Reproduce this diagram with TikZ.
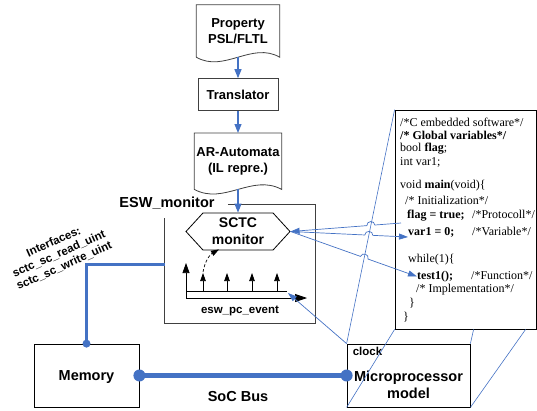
\documentclass[tikz,border=0pt]{standalone}
\usepackage{fontspec}
\setmainfont{Liberation Sans}
\newfontfamily\codefont{Liberation Serif}
\usetikzlibrary{arrows.meta,calc,positioning,shapes.symbols,intersections}
\definecolor{LinkBlue}{HTML}{4472C4}
\definecolor{FrameGray}{HTML}{404040}

% document shape: straight top and sides, wavy bottom
\newcommand{\docoutline}[1]{%
  \draw[FrameGray, line width=0.8pt] (#1.north west) -- (#1.north east) -- (#1.south east)
    .. controls ($(#1.south)+(14,-16)$) and ($(#1.south)+(-14,16)$) .. (#1.south west) -- cycle;}

\begin{document}
\begin{tikzpicture}[x=1pt, y=-1pt, node distance=21pt,
    every node/.style={font=\bfseries},
    docbox/.style={minimum width=83pt, minimum height=52pt, inner sep=0pt, align=center, font=\fontsize{13}{15.5}\selectfont\bfseries},
    stepbox/.style={draw=FrameGray, line width=0.8pt, minimum width=80pt, minimum height=32pt, inner sep=0pt, font=\fontsize{13}{15.5}\selectfont\bfseries},
    hexbox/.style={draw=black, line width=0.8pt, signal, signal to=west and east, signal pointer angle=95, minimum width=104pt, minimum height=37pt, inner sep=0pt, align=center, font=\fontsize{14}{17}\selectfont\bfseries},
    unitbox/.style={draw=black, line width=0.8pt, minimum height=63pt, inner sep=0pt},
    bigtxt/.style={inner sep=0pt, align=center, font=\fontsize{14.5}{17}\selectfont\bfseries},
    smalltxt/.style={inner sep=0pt, font=\fontsize{11.5}{13}\selectfont\bfseries},
    codeln/.style={anchor=west, inner sep=0pt, font=\codefont\fontsize{12}{13}\selectfont},
    flowarr/.style={draw=LinkBlue, line width=1.1pt, -{Triangle[length=9pt,width=7pt]}},
    thinarr/.style={draw=LinkBlue, line width=0.7pt, -{Triangle[length=9pt,width=6pt]}},
    thinline/.style={draw=LinkBlue, line width=0.6pt},
    evtarr/.style={black, line width=0.7pt, -{Triangle[length=8pt,width=5.5pt]}}]
  \useasboundingbox (0,0) rectangle (537,410);

  % property -> translator -> automata
  \node[docbox] (prop) at (238,31) {Property\\PSL/FLTL};
  \node[stepbox, below=of prop] (trans) {Translator};
  \node[docbox, minimum width=87pt, minimum height=56pt, below=22pt of trans] (auto) {AR-Automata\\(IL repre.)};
  \docoutline{prop}
  \docoutline{auto}

  % ESW monitor frame
  \node[minimum width=150pt, minimum height=118pt, inner sep=0pt] (esw) at (240,264) {};
  \draw[FrameGray, line width=0.8pt] ($(esw.north west)+(63,0)$) -| (esw.south east) -| ($(esw.north west)+(0,13)$);
  \node[bigtxt] (eswlbl) at (167,203) {ESW\_monitor};
  \node[hexbox] (sctc) at (238,231.5) {SCTC\\monitor};

  % event axis
  \coordinate (evo) at (186,298);
  \coordinate (evend) at (287,291);
  \draw[black, line width=0.7pt] (evend) -- (evend -| evo);
  \draw[evtarr, -{Triangle[length=10pt,width=7pt]}] (evo) -- ++(0,-35);
  \draw[evtarr, -{Triangle[length=12pt,width=8pt]}] (evo) -- ++(121,0);
  \foreach \dx in {17,41,66,91}
    \draw[evtarr] ($(evo)+(\dx,-7)$) -- ++(0,-18);
  \draw[evtarr, densely dashed] ($(evo)+(17,-26)$) to[bend left=25] ($(sctc.south)+(-19,-1)$);
  \node[smalltxt] (evlbl) at (240,311) {esw\_pc\_event};

  \draw[flowarr] (prop.south) -- (trans.north);
  \draw[flowarr] (trans.north |- trans.south) -- (auto.north);
  \draw[flowarr] (auto.south) -- (sctc.north);

  % platform
  \node[unitbox, minimum width=105pt] (mem) at (86.5,375.5) {};
  \node[bigtxt] (memtxt) at (86.5,377) {Memory};
  \node[unitbox, minimum width=123pt] (cpu) at (408.5,375.5) {};
  \node[bigtxt] (cputxt) at (408.5,384.5) {Microprocessor\\model};
  \node[smalltxt, anchor=west] (clk) at ($(cpu.north west)+(6,8)$) {clock};
  \node[bigtxt] (buslbl) at (238,396) {SoC Bus};

  \draw[LinkBlue, line width=5pt] (mem.east) -- (cpu.west);
  \fill[LinkBlue] (mem.east) circle (6pt) (cpu.west) circle (6pt);
  \draw[LinkBlue, line width=3pt] (mem.north) |- (esw.west);
  \fill[LinkBlue] (mem.north) circle (4pt);

  \coordinate (ifcpos) at (59,254);
  \node[rotate=24, align=center, inner sep=0pt, font=\fontsize{11.5}{13}\selectfont\bfseries] (ifc) at (ifcpos)
    {Interfaces:\\sctc\_sc\_read\_uint\\sctc\_sc\_write\_uint};

  % C code window
  \node[draw=black, fill=white, line width=0.8pt, minimum width=141pt, minimum height=219pt, inner sep=0pt] (code) at (465.5,219.5) {};
  \node[codeln] (c1) at (400,122) {/*C embedded software*/};
  \node[codeln] (c2) at (400,135) {\textbf{/* Global variables*/}};
  \node[codeln] (c3) at (400,148.5) {bool \textbf{flag};};
  \node[codeln] (c4) at (400,162) {int var1;};
  \node[codeln] (c5) at (400,186) {void \textbf{main}(void)\{};
  \node[codeln] (c6) at (405,200) {/* Initialization*/};
  \node[codeln] (flagln) at (407,216) {\makebox[65pt][l]{\textbf{flag = true;}}/*Protocoll*/};
  \node[codeln] (varln) at (408,232) {\makebox[64pt][l]{\textbf{var1 = 0;}}/*Variable*/};
  \node[codeln] (c9) at (408,260) {while(1)\{};
  \node[codeln] (testln) at (417,276.5) {\makebox[54pt][l]{\textbf{test1();}}/*Function*/};
  \node[codeln] (c11) at (416,290) {/* Implementation*/};
  \node[codeln] (c12) at (409,303.5) {\}};
  \node[codeln] (c13) at (403,317) {\}};

  % zoom lines from the processor to the code window
  \coordinate (pq1) at ($(code.south west)+(79,0)$);
  \coordinate (pq2) at ($(code.south west)+(131,0)$);
  \draw[thinline, name path=persp] (cpu.north west) -- (code.north west);
  \draw[thinline] (cpu.south west) -- (code.south west);
  \draw[thinline] (cpu.north east) -- (pq1);
  \draw[thinline] (cpu.south east) -- (pq2);

  % clock into the event axis
  \draw[thinarr] (cpu.north west) -- ($(evend)+(1,2)$);

  % code lines <-> monitor, hopping over the zoom line
  \coordinate (flagpt) at ($(flagln.west)+(-6,7)$);
  \coordinate (varpt) at ($(varln.west)+(0,5)$);
  \coordinate (testpt) at (testln.west);
  \path[name path=pA] (flagpt) -- (sctc.east);
  \path[name path=pB] (sctc.east) -- (varpt);
  \path[name path=pC] (sctc.east) -- (testpt);
  \path[name intersections={of=persp and pA, by=jA}];
  \path[name intersections={of=persp and pB, by=jB}];
  \path[name intersections={of=persp and pC, by=jC}];
  \draw[thinarr] (flagpt) -- ($(jA)!4pt!(flagpt)$) to[bend right=90, looseness=1.6] ($(jA)!4pt!(sctc.east)$) -- (sctc.east);
  \draw[thinarr] (sctc.east) -- ($(jB)!4pt!(sctc.east)$) to[bend left=90, looseness=1.6] ($(jB)!4pt!(varpt)$) -- (varpt);
  \draw[thinarr] (sctc.east) -- ($(jC)!4pt!(sctc.east)$) to[bend left=90, looseness=1.6] ($(jC)!4pt!(testpt)$) -- (testpt);
\end{tikzpicture}
\end{document}
